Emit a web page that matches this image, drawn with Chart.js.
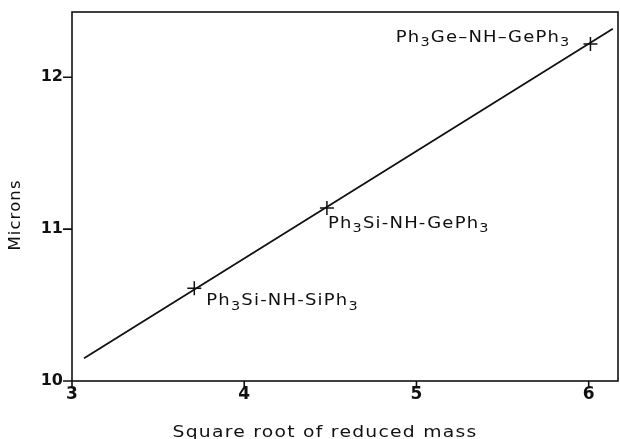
<!DOCTYPE html>
<html><head><meta charset="utf-8">
<script src="https://cdn.jsdelivr.net/npm/chart.js@4"></script>
<style>html,body{margin:0;padding:0;background:#fff}#wrap{width:620px;height:439px}</style>
</head><body><div id="wrap"><canvas id="c" width="620" height="439"></canvas></div>
<script>
// Data
const xTicks = [3, 4, 5, 6];
const yTicks = [10, 11, 12];
const pointNames = [
  [["Ph",0],["3",1],["Si-NH-SiPh",0],["3",1]],
  [["Ph",0],["3",1],["Si-NH-GePh",0],["3",1]],
  [["Ph",0],["3",1],["Ge\u2013NH\u2013GePh",0],["3",1]]
];
const pointX = [3.71, 4.48, 6.01];
const pointY = [10.61, 11.14, 12.22];
const fitX = [3.07, 6.14];
const fitY = [10.15, 12.32];
const xRange = [3, 6.17];
const yRange = [10, 12.43];
const xTitle = 'Square root of reduced mass';
const yTitle = 'Microns';
// label anchor offsets (px) and alignment
const labelOffsets = [[12, 17, 'left'], [1, 20, 'left'], [-20, -2, 'right']];

const FONT = '"DejaVu Sans", sans-serif';

// draws horizontally stretched text made of [text, isSubscript] parts
function drawRich(ctx, parts, x, y, size, align, spacing, sx) {
  ctx.save();
  ctx.letterSpacing = spacing + 'px';
  ctx.textAlign = 'left';
  const sub = Math.round(size * 0.8);
  let w = 0;
  parts.forEach(p => { ctx.font = (p[1] ? sub : size) + 'px ' + FONT; w += ctx.measureText(p[0]).width; });
  const x0 = align === 'right' ? x - w * sx : (align === 'center' ? x - w * sx / 2 : x);
  ctx.translate(x0, y);
  ctx.scale(sx, 1);
  let cx = 0;
  parts.forEach(p => {
    ctx.font = (p[1] ? sub : size) + 'px ' + FONT;
    ctx.fillText(p[0], cx, p[1] ? size * 0.28 : 0);
    cx += ctx.measureText(p[0]).width;
  });
  ctx.restore();
}

const deco = {
  id: 'deco',
  afterDraw(chart) {
    const ctx = chart.ctx, a = chart.chartArea;
    const xs = chart.scales.x, ys = chart.scales.y;
    ctx.save();
    ctx.strokeStyle = '#111'; ctx.lineWidth = 1.6;
    ctx.strokeRect(a.left, a.top, a.right - a.left, a.bottom - a.top);
    ctx.beginPath();
    xTicks.forEach(v => { const px = xs.getPixelForValue(v); ctx.moveTo(px, a.bottom); ctx.lineTo(px, a.bottom + 6); });
    yTicks.forEach(v => { const py = ys.getPixelForValue(v); ctx.moveTo(a.left, py); ctx.lineTo(a.left - 9, py); });
    ctx.stroke();
    ctx.fillStyle = '#111'; ctx.textBaseline = 'alphabetic';
    pointNames.forEach((parts, i) => {
      const px = xs.getPixelForValue(pointX[i]), py = ys.getPixelForValue(pointY[i]);
      const o = labelOffsets[i];
      drawRich(ctx, parts, px + o[0], py + o[1], 15, o[2], 1, 1.2);
    });
    // axis titles
    drawRich(ctx, [[xTitle, 0]], (a.left + a.right) / 2 - 20, 437, 15, 'center', 1, 1.25);
    ctx.save();
    ctx.translate(20, 215);
    ctx.rotate(-Math.PI / 2);
    drawRich(ctx, [[yTitle, 0]], 0, 0, 15, 'center', 1, 1.1);
    ctx.restore();
    ctx.restore();
  }
};

new Chart(document.getElementById('c'), {
  type: 'scatter',
  data: {
    datasets: [
      { data: fitX.map((x, i) => ({x, y: fitY[i]})), showLine: true, borderColor: '#111', borderWidth: 1.8, pointRadius: 0, fill: false },
      { data: pointX.map((x, i) => ({x, y: pointY[i]})), pointStyle: 'cross', pointRadius: 7, borderColor: '#111', borderWidth: 1.5, showLine: false }
    ]
  },
  options: {
    responsive: false, animation: false, devicePixelRatio: 1,
    layout: { autoPadding: false, padding: { left: 0, right: 2, top: 12, bottom: 0 } },
    plugins: { legend: { display: false }, tooltip: { enabled: false } },
    scales: {
      x: {
        type: 'linear', min: xRange[0], max: xRange[1],
        afterBuildTicks: s => { s.ticks = xTicks.map(v => ({value: v})); },
        afterFit: s => { s.height = 58; s.paddingLeft = 0; s.paddingRight = 0; },
        grid: { display: false, drawTicks: false }, border: { display: false },
        ticks: { color: '#111', font: { family: FONT, size: 17, weight: 'bold' }, padding: 3 }
      },
      y: {
        type: 'linear', min: yRange[0], max: yRange[1],
        afterBuildTicks: s => { s.ticks = yTicks.map(v => ({value: v})); },
        afterFit: s => { s.width = 72; s.paddingTop = 0; s.paddingBottom = 0; },
        grid: { display: false, drawTicks: false }, border: { display: false },
        ticks: { color: '#111', font: { family: FONT, size: 16, weight: 'bold' }, padding: 9 }
      }
    }
  },
  plugins: [deco]
});
</script></body></html>
